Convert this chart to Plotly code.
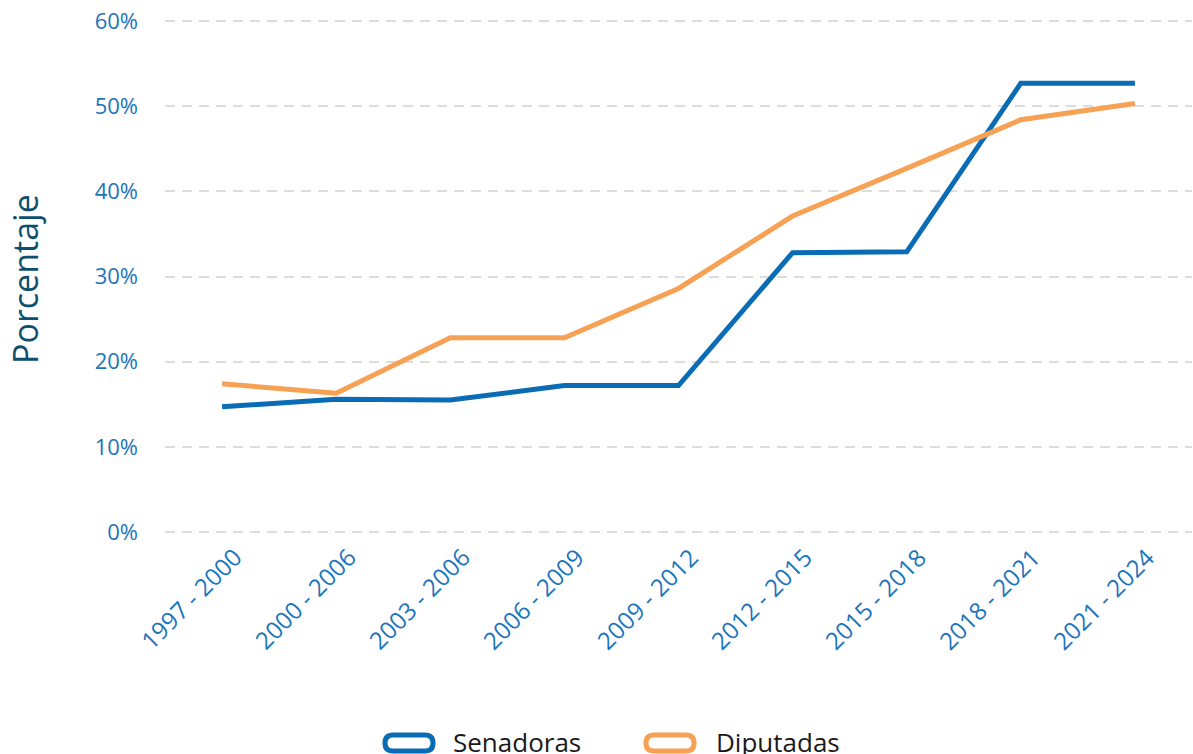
import plotly.graph_objects as go

# Legislative periods and share of women (%) in each chamber
periodos = ["1997 - 2000", "2000 - 2006", "2003 - 2006", "2006 - 2009", "2009 - 2012",
            "2012 - 2015", "2015 - 2018", "2018 - 2021", "2021 - 2024"]
senadoras = [14.7, 15.6, 15.5, 17.2, 17.2, 32.8, 32.9, 52.7, 52.7]
diputadas = [17.4, 16.3, 22.8, 22.8, 28.6, 37.1, 42.7, 48.4, 50.3]
y_ticks = [0, 10, 20, 30, 40, 50, 60]

AZUL = "#0a6cb4"
NARANJA = "#f7a155"
TICK_COLOR = "#1a75bb"
FONT = "Open Sans"

W, H = 1193, 754
ML, MR, MT, MB = 165, 1, 18, 219
PW, PH = W - ML - MR, H - MT - MB

xs = list(range(len(periodos)))

fig = go.Figure()
fig.add_trace(go.Scatter(x=xs, y=senadoras, mode="lines",
                         name="Senadoras", line=dict(color=AZUL, width=5)))
fig.add_trace(go.Scatter(x=xs, y=diputadas, mode="lines",
                         name="Diputadas", line=dict(color=NARANJA, width=5)))

fig.update_layout(
    width=W, height=H,
    margin=dict(l=ML, r=MR, t=MT, b=MB),
    paper_bgcolor="white", plot_bgcolor="white",
    showlegend=False,
    font=dict(family=FONT),
)
fig.update_xaxes(
    range=[-0.5, len(periodos) - 0.5],
    tickvals=xs, showticklabels=False,
    showgrid=False, zeroline=False, showline=False, ticks="",
)
# a small pad keeps the 0% and 60% gridlines inside the plot area
fig.update_yaxes(
    range=[-0.35, 60.35], tickvals=y_ticks, ticktext=[f"{v}%" for v in y_ticks],
    showgrid=True, gridcolor="#dcdcdc", griddash="10px,7px", gridwidth=1.5,
    zeroline=False, showline=False,
    tickfont=dict(family=FONT, size=22, color=TICK_COLOR),
    ticklabelstandoff=26,
)

# Diagonal period labels under the axis
for i, p in enumerate(periodos):
    fig.add_annotation(text=p, x=i, y=0, xref="x", yref="y",
                       xanchor="right", yanchor="top", textangle=-45,
                       xshift=29, yshift=-6, showarrow=False,
                       font=dict(family=FONT, size=24, color=TICK_COLOR))

# Vertical axis title
fig.add_annotation(text="Porcentaje", xref="paper", yref="paper",
                   x=(25 - ML) / PW, y=(H - MB - 279) / PH,
                   xanchor="center", yanchor="middle", textangle=-90, showarrow=False,
                   font=dict(family=FONT, size=34, color="#0d4f6e"))

# Legend drawn as pill-shaped outlines with labels beneath the plot
def pill(cx, cy, color):
    hw, hh = 24, 8
    r = hh
    path = (f"M {-hw + r},{-hh} L {hw - r},{-hh} "
            f"Q {hw},{-hh} {hw},0 Q {hw},{hh} {hw - r},{hh} "
            f"L {-hw + r},{hh} Q {-hw},{hh} {-hw},0 Q {-hw},{-hh} {-hw + r},{-hh} Z")
    fig.add_shape(type="path", path=path, xref="paper", yref="paper",
                  xsizemode="pixel", ysizemode="pixel",
                  xanchor=(cx - ML) / PW, yanchor=(H - MB - cy) / PH,
                  line=dict(color=color, width=5), fillcolor="white")

def label(x, cy, text):
    fig.add_annotation(text=text, xref="paper", yref="paper",
                       x=(x - ML) / PW, y=(H - MB - cy) / PH,
                       xanchor="left", yanchor="middle", showarrow=False,
                       font=dict(family=FONT, size=26, color="#1a1a1a"))

pill(409, 743, AZUL)
label(451, 742, "Senadoras")
pill(670, 743, NARANJA)
label(714, 742, "Diputadas")

fig.write_html("out.html")
